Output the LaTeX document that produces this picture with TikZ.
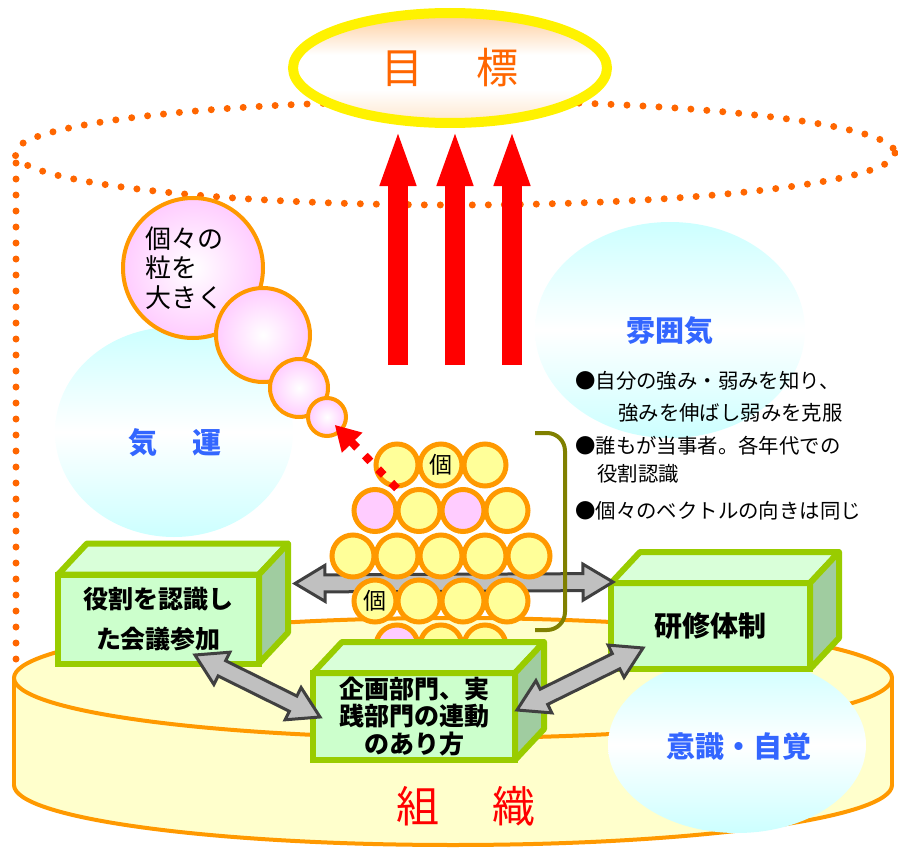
\documentclass[tikz,border=0pt]{standalone}
\usepackage{fontspec}
\setmainfont{Noto Sans CJK JP}
\usetikzlibrary{positioning,calc,arrows.meta,shapes.geometric}

\definecolor{dotorange}{HTML}{FF6600}
\definecolor{ringorange}{HTML}{FF9900}
\definecolor{cylyellow}{HTML}{FFFFCC}
\definecolor{skycyan}{HTML}{CCFFFF}
\definecolor{labelblue}{HTML}{3366FF}
\definecolor{peach}{HTML}{FFCC99}
\definecolor{paleorange}{HTML}{FFE6CC}
\definecolor{bubblepink}{HTML}{FFCCFF}
\definecolor{grainy}{HTML}{FFFF99}
\definecolor{grainp}{HTML}{FFCCFF}
\definecolor{boxline}{HTML}{99CC00}
\definecolor{boxfront}{HTML}{CCFFCC}
\definecolor{boxtop}{HTML}{D9FFD9}
\definecolor{boxside}{HTML}{A0CCA0}
\definecolor{arrowgray}{HTML}{C0C0C0}
\definecolor{arrowedge}{HTML}{404040}
\definecolor{bracketolive}{HTML}{808000}

% peach at the rims, white through the middle
\pgfdeclareverticalshading{goalfade}{100bp}{color(0bp)=(paleorange); color(25bp)=(paleorange);
  color(40bp)=(white); color(56bp)=(white); color(75bp)=(peach); color(100bp)=(peach)}

% top and right faces of a green block, hung on its front node
\newcommand{\drawblock}[1]{%
  \filldraw[blocktop] (#1.north west) -- ++(29,-31) -- ($(#1.north east)+(29,-31)$) -- (#1.north east) -- cycle;
  \filldraw[blockside] (#1.north east) -- ++(29,-31) -- ($(#1.south east)+(29,-31)$) -- (#1.south east) -- cycle;}

\tikzset{
  dotline/.style={dotorange, line width=7pt, line cap=round, dash pattern=on 0pt off 16pt},
  orgbody/.style={fill=cylyellow, draw=ringorange, line width=4pt},
  orgline/.style={draw=ringorange, line width=4pt},
  haze/.style={ellipse, inner sep=0pt, top color=skycyan, bottom color=skycyan, middle color=white},
  hazetext/.style={text=labelblue, inner sep=0pt, font=\bfseries\fontsize{29}{29}\selectfont},
  goalring/.style={ellipse, draw=yellow, line width=10pt, shade, shading=goalfade,
    text=dotorange, font=\fontsize{42}{42}\selectfont, minimum width=314pt, minimum height=110pt},
  uparrow/.style={red, line width=20pt, -{Triangle[length=58pt,width=32pt]}},
  bubble/.style={circle, draw=ringorange, line width=4pt, inner sep=0pt, inner color=white, outer color=bubblepink},
  growtext/.style={anchor=west, align=left, inner sep=0pt, font=\fontsize{26}{29.5}\selectfont},
  pointtext/.style={anchor=west, inner sep=0pt, text height=0.86em, text depth=0.14em, font=\fontsize{20.4}{20.4}\selectfont},
  grain/.style={circle, draw=ringorange, line width=5pt, inner sep=0pt, minimum size=42pt},
  graintext/.style={inner sep=0pt, font=\fontsize{23}{23}\selectfont},
  blockfront/.style={rectangle, draw=boxline, fill=boxfront, line width=6pt, outer sep=0pt, inner sep=0pt,
    align=center, font=\bfseries\fontsize{25}{27.5}\selectfont},
  blocktop/.style={draw=boxline, fill=boxtop, line width=6pt, line join=round},
  blockside/.style={draw=boxline, fill=boxside, line width=6pt, line join=round},
  dblarrow/.style={draw=arrowedge, fill=arrowgray, line width=3pt, line join=miter,
    to path={(\tikztostart)
      -- ($(\tikztostart)!30pt!(\tikztotarget)!18pt!90:(\tikztotarget)$)
      -- ($(\tikztostart)!30pt!(\tikztotarget)!8.5pt!90:(\tikztotarget)$)
      -- ($(\tikztotarget)!30pt!(\tikztostart)!8.5pt!-90:(\tikztostart)$)
      -- ($(\tikztotarget)!30pt!(\tikztostart)!18pt!-90:(\tikztostart)$)
      -- (\tikztotarget)
      -- ($(\tikztotarget)!30pt!(\tikztostart)!18pt!90:(\tikztostart)$)
      -- ($(\tikztotarget)!30pt!(\tikztostart)!8.5pt!90:(\tikztostart)$)
      -- ($(\tikztostart)!30pt!(\tikztotarget)!8.5pt!-90:(\tikztotarget)$)
      -- ($(\tikztostart)!30pt!(\tikztotarget)!18pt!-90:(\tikztotarget)$)
      -- cycle}},
  dotarrow/.style={red, line width=8pt, dash pattern=on 8pt off 11pt, -{Triangle[length=25pt,width=27pt]}},
  bracketline/.style={bracketolive, line width=4pt, rounded corners=18pt},
  orgtext/.style={text=red, inner sep=0pt, font=\fontsize{43}{43}\selectfont}
}

\begin{document}
\begin{tikzpicture}[x=1pt, y=-1pt]
  \useasboundingbox (0,0) rectangle (898,851);

  % dotted outline of the whole
  \draw[dotline] (455,153) ellipse[x radius=440, y radius=52];
  \draw[dotline] (16,163) -- (16,668);

  % organisation cylinder
  \filldraw[orgbody] (453,785) ellipse[x radius=439, y radius=60];
  \fill[cylyellow] (14,678) rectangle (892,785);
  \draw[orgline] (14,678) -- (14,785) (892,678) -- (892,785);
  \filldraw[orgbody] (453,678) ellipse[x radius=439, y radius=60];
  \node[orgtext] (org) at (466,806) {組\hspace{53pt}織};

  % soft clouds
  \node[haze, minimum width=238pt, minimum height=210pt] (kiunbg) at (174,432) {};
  \node[haze, minimum width=270pt, minimum height=216pt] (funikibg) at (670,330) {};
  \node[haze, minimum width=258pt, minimum height=176pt] (ishikibg) at (737,745) {};
  \node[hazetext] (kiun) at (175,443) {気\hspace{35pt}運};
  \node[hazetext] (funiki) at (670,331) {雰囲気};
  \node[hazetext] (ishiki) at (739,747) {意識・自覚};

  % goal and the three arrows
  \node[goalring] (goal) at (450,68) {目\hspace{54pt}標};
  \foreach \x [count=\i] in {398,455,512} {
    \coordinate (rise\i) at (\x,365);
    \draw[uparrow] (rise\i) -- (rise\i |- goal.south);
  }

  % growing bubbles
  \node[bubble, minimum size=140pt] (b1) at (193,268) {};
  \node[bubble, minimum size=94pt] (b2) at (263,335) {};
  \node[bubble, minimum size=58pt] (b3) at (299,388) {};
  \node[bubble, minimum size=38pt] (b4) at (327,417) {};
  \node[growtext] (grow) at (145,268) {個々の\\粒を\\大きく};

  \foreach \t/\x/\y [count=\i] in {●自分の強み・弱みを知り、/575/385, 強みを伸ばし弱みを克服/618/417,
      ●誰もが当事者。各年代での/575/450, 役割認識/597/478, ●個々のベクトルの向きは同じ/575/515}
    \node[pointtext] (pt\i) at (\x,\y) {\t};

  % side blocks
  \node[blockfront, minimum width=201pt, minimum height=89pt, font=\bfseries\fontsize{25}{40}\selectfont]
    (meeting) at (158.5,619) {役割を認識し\\た会議参加};
  \drawblock{meeting}
  \node[blockfront, minimum width=199pt, minimum height=86pt, font=\bfseries\fontsize{28}{28}\selectfont]
    (training) at (710.5,626) {研修体制};
  \drawblock{training}

  \coordinate (hl) at ([shift={(36,9)}]meeting.north east);
  \coordinate (hr) at ([shift={(2,-1)}]training.north west);
  \draw[dblarrow] (hl) to (hr);

  % stack of grains
  \foreach \n/\y/\cols [count=\r] in {3/465/{y,y,y}, 4/510.5/{p,y,p,y}, 5/556/{y,y,y,y,y},
      4/601/{y,y,y,y}, 3/646/{p,y,y}}
    \foreach \c [count=\k] in \cols
      \node[grain, fill=grain\c] (g\r\k) at ({441+(\k-(\n+1)/2)*44}, \y) {};
  \node[graintext] (ko1) at (g12) {個};
  \node[graintext] (ko2) at (g41) {個};

  \draw[bracketline] (535,433) -- (565,433) -- (565,630) -- (535,630);
  \draw[dotarrow, shorten >=-10pt] (g11.south) -- (b4);

  % middle block
  \node[blockfront, minimum width=202pt, minimum height=87pt] (linkage) at (414,716.5)
    {企画部門、実\\践部門の連動\\のあり方};
  \drawblock{linkage}

  \coordinate (dl1) at ([shift={(36.5,-8.5)}]meeting.south);
  \coordinate (dl2) at ([shift={(7,0.5)}]linkage.west);
  \coordinate (dr1) at ([shift={(2,-6.5)}]linkage.east);
  \coordinate (dr2) at ([shift={(32,-21)}]training.south west);
  \draw[dblarrow] (dl1) to (dl2);
  \draw[dblarrow] (dr1) to (dr2);
\end{tikzpicture}
\end{document}
